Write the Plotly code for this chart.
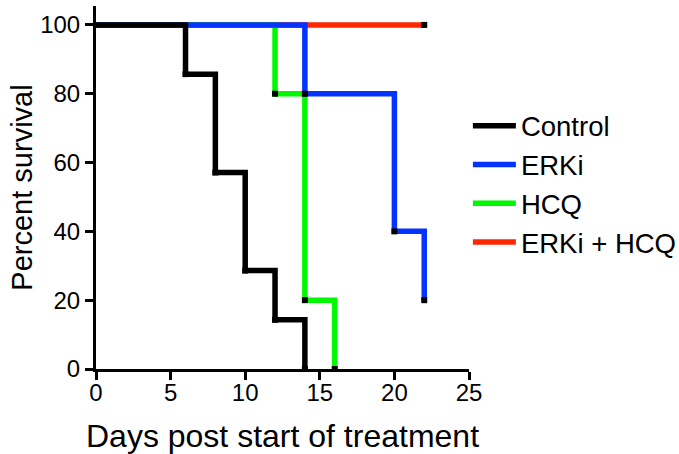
import plotly.graph_objects as go

# Data (Kaplan-Meier steps)
control_days = [0, 6, 8, 10, 12, 14]
control_surv = [100, 85.7, 57.1, 28.6, 14.3, 0]
erki_days = [0, 14, 20, 22]
erki_surv = [100, 80, 40, 20]
hcq_days = [0, 12, 14, 16]
hcq_surv = [100, 80, 20, 0]
combo_days = [0, 22]
combo_surv = [100, 100]

x_ticks = [0, 5, 10, 15, 20, 25]
y_ticks = [0, 20, 40, 60, 80, 100]

FONT = "Arial, Liberation Sans, sans-serif"

series = [
    # name, x, y, color, legendrank (draw order = list order)
    ("ERKi + HCQ", combo_days, combo_surv, "#FF2600", 4),
    ("HCQ", hcq_days, hcq_surv, "#00F900", 3),
    ("ERKi", erki_days, erki_surv, "#0433FF", 2),
    ("Control", control_days, control_surv, "#000000", 1),
]

fig = go.Figure()
for name, xs, ys, color, rank in series:
    fig.add_trace(go.Scatter(
        x=xs, y=ys, mode="lines", name=name,
        line=dict(color=color, width=5.5, shape="hv"),
        legendrank=rank,
    ))
for name, xs, ys, color, rank in series:
    fig.add_trace(go.Scatter(
        x=xs[1:], y=ys[1:], mode="markers", showlegend=False,
        marker=dict(symbol="square", size=6, color="black"),
        cliponaxis=False, hoverinfo="skip",
    ))

fig.update_layout(
    width=679, height=454,
    margin=dict(l=96, r=210, t=6, b=85, autoexpand=False),
    paper_bgcolor="white", plot_bgcolor="white",
    font=dict(family=FONT, color="black"),
    showlegend=True,
    legend=dict(
        x=0.997, xanchor="left", y=0.51, yanchor="middle",
        font=dict(size=27.5, family=FONT),
        bgcolor="rgba(0,0,0,0)",
        itemwidth=43,
        tracegroupgap=0,
    ),
)
fig.update_xaxes(
    range=[0, 25], tickvals=x_ticks, ticktext=[str(v) for v in x_ticks],
    showline=True, linecolor="black", linewidth=3,
    ticks="outside", ticklen=8, tickwidth=2.5, tickcolor="black",
    tickfont=dict(size=24, family=FONT), ticklabelstandoff=-8,
    showgrid=False, zeroline=False, automargin=False,
    title=dict(text="Days post start of treatment", font=dict(size=32, family=FONT), standoff=24),
)
fig.update_yaxes(
    range=[0, 105.5], tickvals=y_ticks, ticktext=[str(v) for v in y_ticks],
    showline=True, linecolor="black", linewidth=3,
    ticks="outside", ticklen=8, tickwidth=2.5, tickcolor="black",
    tickfont=dict(size=24, family=FONT),
    showgrid=False, zeroline=False, automargin=False,
    title=dict(text="Percent survival", font=dict(size=29, family=FONT), standoff=0),
)

fig.write_html("out.html", config={"displayModeBar": False},
               post_script="document.body.style.margin='0px';")
